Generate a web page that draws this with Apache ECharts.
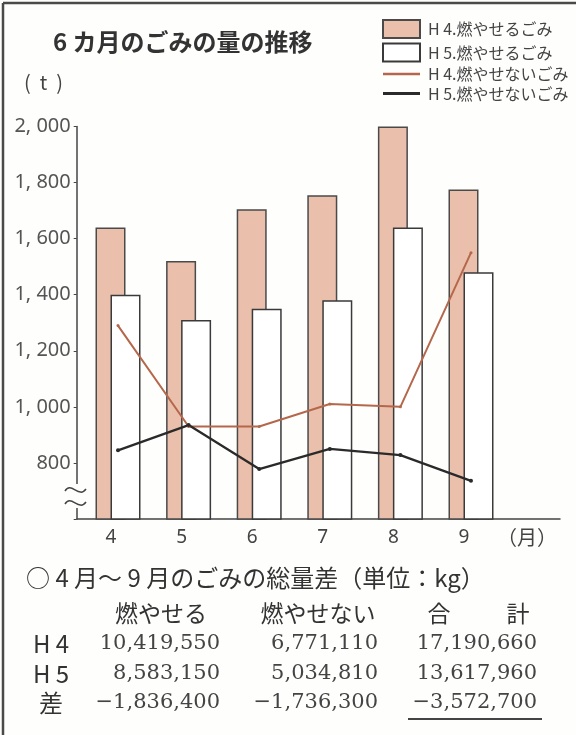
<!DOCTYPE html>
<html>
<head>
<meta charset="utf-8">
<script src="https://cdn.jsdelivr.net/npm/echarts@6/dist/echarts.min.js"></script>
<style>
  html, body { margin: 0; padding: 0; background: #fefefd; }
  #chart { width: 576px; height: 735px; }
</style>
</head>
<body>
<div id="chart"></div>
<script>
// ---- data ----
const months = ['4', '5', '6', '7', '8', '9'];
const seriesNames = ['H 4.燃やせるごみ', 'H 5.燃やせるごみ', 'H 4.燃やせないごみ', 'H 5.燃やせないごみ'];
const h4Burnable = [1640, 1520, 1705, 1755, 2000, 1775];
const h5Burnable = [1400, 1310, 1350, 1380, 1640, 1480];
const h4NonBurnable = [1290, 930, 930, 1010, 1000, 1550];
const h5NonBurnable = [845, 935, 778, 850, 828, 736];
const yMin = 600, yMax = 2000, yInterval = 200;

const chartTitle = '6 カ月のごみの量の推移';
const unitLabel = '(  t  )';
const monthUnit = '（月）';

const tableTitle = '○ 4 月～ 9 月のごみの総量差（単位：kg）';
const tableHeaders = ['燃やせる', '燃やせない', '合　計'];
const rowLabels = ['H 4', 'H 5', '差'];
const burnableTotals = [10419550, 8583150, -1836400];
const nonBurnableTotals = [6771110, 5034810, -1736300];
const grandTotals = [17190660, 13617960, -3572700];

// ---- helpers ----
const JP = '"Noto Sans CJK JP", "Noto Sans", sans-serif';
function fmt(n) {
  const s = Math.abs(n).toLocaleString('en-US');
  return (n < 0 ? '\u2212' : '') + s;
}

const chart = echarts.init(document.getElementById('chart'));

// table graphics built from arrays
const colRight = [220, 378, 537];
const headerCenters = [[161], [318], [439, 518]];
const rowY = [644, 674, 703];
const tableEls = [];
tableEls.push({ type: 'text', x: 26, y: 578, style: { text: tableTitle, font: '24px ' + JP, fill: '#333', verticalAlign: 'middle', textAlign: 'left' } });
tableHeaders.forEach((h, i) => {
  const parts = h.split(/\u3000+/);
  parts.forEach((p, k) => {
    tableEls.push({ type: 'text', x: headerCenters[i][k], y: 613, style: { text: p, font: '23px ' + JP, fill: '#333', textAlign: 'center', verticalAlign: 'middle' } });
  });
});
const cols = [burnableTotals, nonBurnableTotals, grandTotals];
rowLabels.forEach((lab, r) => {
  tableEls.push({ type: 'text', x: 51, y: rowY[r], style: { text: lab, font: '24px ' + JP, fill: '#333', textAlign: 'center', verticalAlign: 'middle' } });
  cols.forEach((col, c) => {
    tableEls.push({ type: 'text', x: colRight[c], y: rowY[r], style: { text: fmt(col[r]), font: '21px "DejaVu Serif", serif', fill: '#444', textAlign: 'right', verticalAlign: 'middle' } });
  });
});
tableEls.push({ type: 'line', shape: { x1: 408, y1: 719, x2: 542, y2: 719 }, style: { stroke: '#444', lineWidth: 2 } });

const option = {
  backgroundColor: '#fefefd',
  animation: false,
  grid: [
    { left: 82.7, right: 69.7, top: 126.5, bottom: 216, containLabel: false },
    { left: 77, right: 16, top: 126.5, bottom: 216, containLabel: false }
  ],
  legend: {
    orient: 'vertical',
    left: 377,
    top: 14,
    itemWidth: 37,
    itemHeight: 18,
    itemGap: 3.5,
    textStyle: { fontSize: 16, color: '#444', fontFamily: JP, padding: [0, 0, 0, 3] },
    data: [
      { name: seriesNames[0], icon: 'rect' },
      { name: seriesNames[1], icon: 'rect' },
      { name: seriesNames[2], icon: 'path://M0,0h40v2.5h-40z' },
      { name: seriesNames[3], icon: 'path://M0,0h40v3h-40z' }
    ]
  },
  xAxis: [
    {
      type: 'category', gridIndex: 0, data: months,
      axisLine: { show: false }, axisTick: { show: false },
      axisLabel: { fontSize: 19, color: '#444', fontFamily: '"Noto Sans", sans-serif', margin: 9, padding: [0, 14, 0, 0] }
    },
    {
      type: 'value', gridIndex: 1, min: 0, max: 1, position: 'bottom',
      axisLine: { show: true, onZero: false, lineStyle: { color: '#444', width: 1.5 } },
      axisTick: { show: false }, axisLabel: { show: false }, splitLine: { show: false }
    }
  ],
  yAxis: [
    {
      type: 'value', gridIndex: 0, min: yMin, max: yMax, interval: yInterval, offset: 6,
      axisLine: { show: true, lineStyle: { color: '#444', width: 1.5 } },
      axisTick: { show: true, length: 3, lineStyle: { color: '#444' } },
      splitLine: { show: false },
      axisLabel: {
        margin: 6, fontSize: 20, color: '#555', fontFamily: '"Noto Sans", sans-serif',
        formatter: v => (v === yMin ? '' : v.toLocaleString('en-US').replace(',', ', '))
      }
    },
    { type: 'value', gridIndex: 1, min: 0, max: 1, show: false }
  ],
  series: [
    {
      name: seriesNames[0], type: 'bar', xAxisIndex: 0, yAxisIndex: 0,
      data: h4Burnable, barWidth: 30, barGap: '-50%',
      itemStyle: { color: '#eabfac', borderColor: '#4a4a4a', borderWidth: 1.5 }
    },
    {
      name: seriesNames[1], type: 'bar', xAxisIndex: 0, yAxisIndex: 0,
      data: h5Burnable, barWidth: 30, barGap: '-50%',
      itemStyle: { color: '#ffffff', borderColor: '#3a3a3a', borderWidth: 1.5 }
    },
    {
      name: seriesNames[2], type: 'line', xAxisIndex: 0, yAxisIndex: 0,
      data: h4NonBurnable, symbol: 'circle', symbolSize: 3,
      color: '#b5674c',
      lineStyle: { color: '#b5674c', width: 2 },
      itemStyle: { color: '#b5674c' }, z: 5
    },
    {
      name: seriesNames[3], type: 'line', xAxisIndex: 0, yAxisIndex: 0,
      data: h5NonBurnable, symbol: 'circle', symbolSize: 4,
      color: '#2a2a2a',
      lineStyle: { color: '#2a2a2a', width: 2.3 },
      itemStyle: { color: '#2a2a2a' }, z: 5
    }
  ],
  graphic: [
    // frame
    { type: 'line', z: 100, shape: { x1: 3, y1: 3, x2: 576, y2: 3 }, style: { stroke: '#4a4a4a', lineWidth: 2.5 } },
    { type: 'line', z: 100, shape: { x1: 3, y1: 3, x2: 3, y2: 735 }, style: { stroke: '#4a4a4a', lineWidth: 2.5 } },
    // titles
    { type: 'text', z: 100, x: 53, y: 42, style: { text: chartTitle, font: 'bold 24px ' + JP, fill: '#333', verticalAlign: 'middle' } },
    { type: 'text', z: 100, x: 24, y: 82, style: { text: unitLabel, font: '20px ' + JP, fill: '#444', verticalAlign: 'middle' } },
    { type: 'text', z: 100, x: 497, y: 537, style: { text: monthUnit, font: '20px ' + JP, fill: '#444', verticalAlign: 'middle' } },
    // axis break
    { type: 'rect', z: 100, shape: { x: 72, y: 484, width: 10, height: 24 }, style: { fill: '#fefefd' } },
    { type: 'bezierCurve', z: 101, shape: { x1: 65, y1: 491, cpx1: 71, cpy1: 481, cpx2: 79, cpy2: 499, x2: 86, y2: 489 }, style: { stroke: '#444', lineWidth: 1.5, fill: null } },
    { type: 'bezierCurve', z: 101, shape: { x1: 65, y1: 504, cpx1: 71, cpy1: 494, cpx2: 79, cpy2: 512, x2: 86, y2: 502 }, style: { stroke: '#444', lineWidth: 1.5, fill: null } }
  ].concat(tableEls.map(e => Object.assign({ z: 100 }, e)))
};
chart.setOption(option);
</script>
</body>
</html>
